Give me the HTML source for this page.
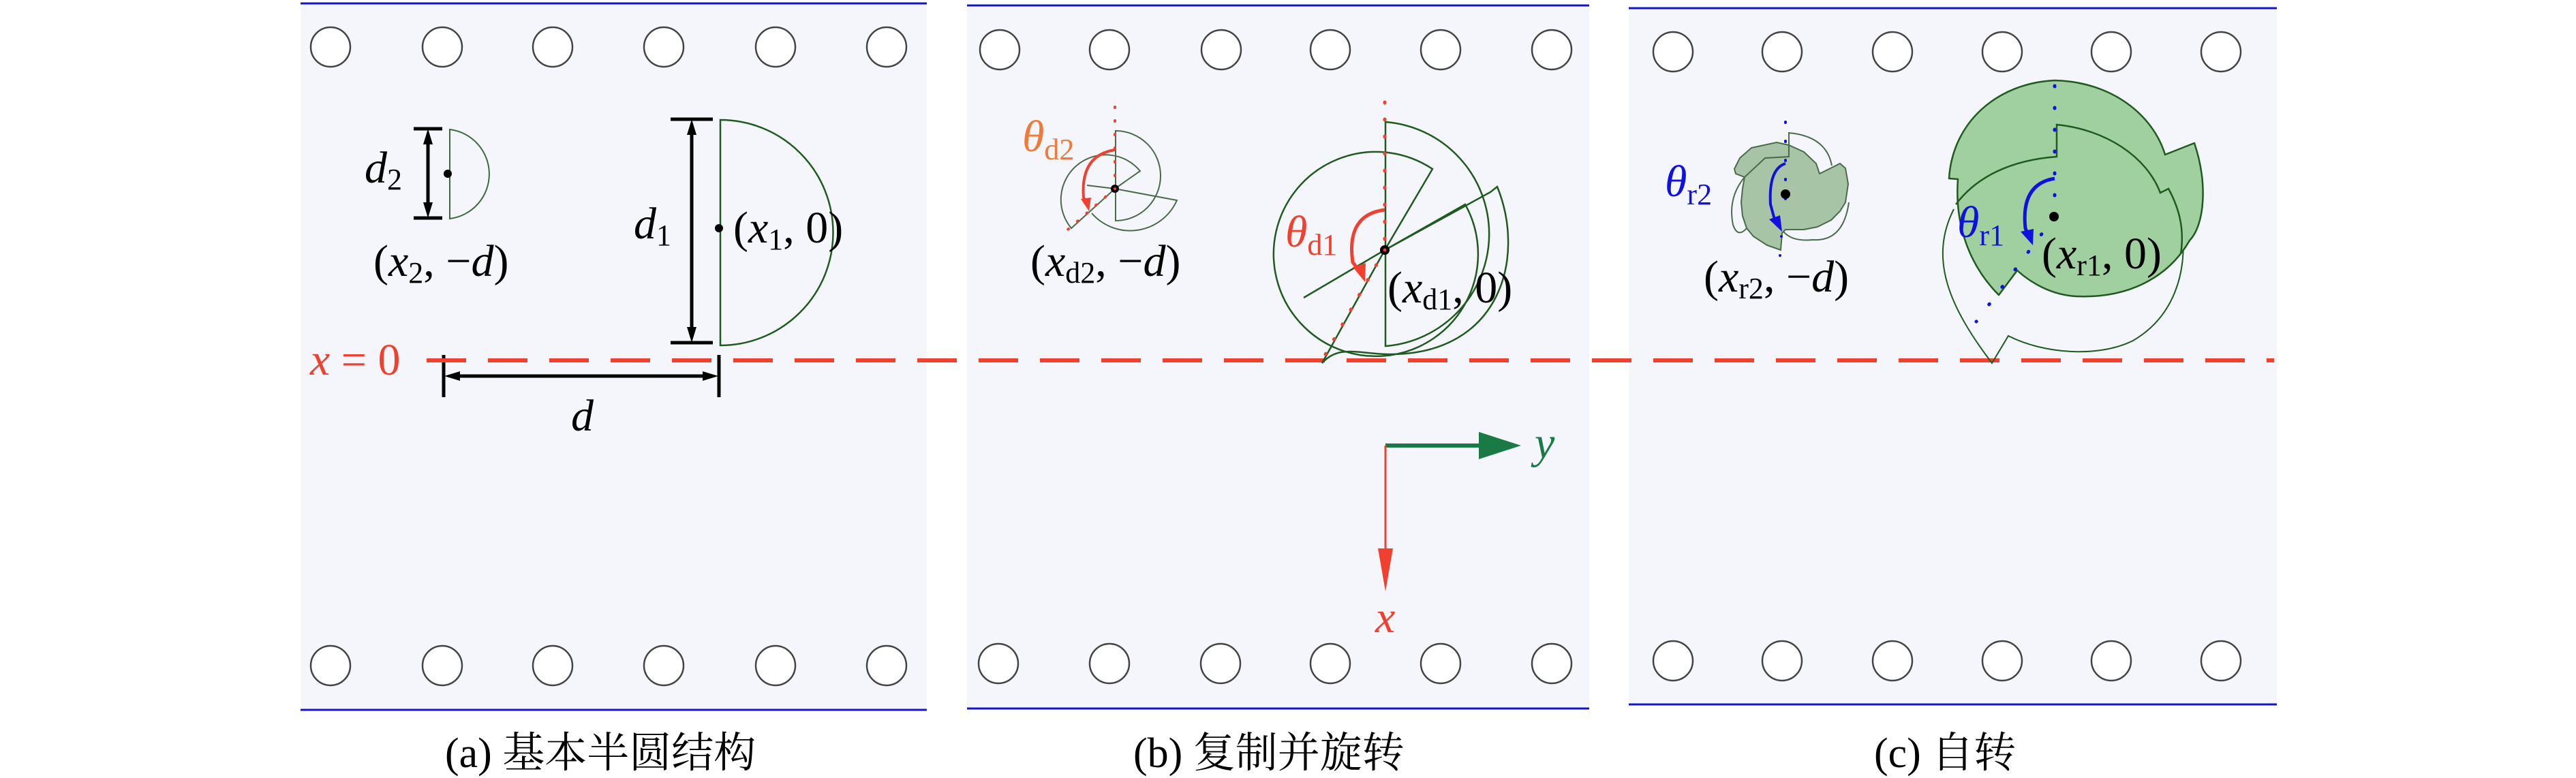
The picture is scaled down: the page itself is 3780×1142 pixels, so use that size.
<!DOCTYPE html>
<html><head><meta charset="utf-8"><style>
html,body{margin:0;padding:0;background:#fff}
svg{display:block}
.m{font-family:"Liberation Serif",serif;font-size:66px}
.i{font-style:italic}
.cap{font-family:"Liberation Serif","Noto Serif CJK SC",serif;font-size:62px}
</style></head><body>
<svg width="3780" height="1142" viewBox="0 0 3780 1142" xmlns="http://www.w3.org/2000/svg">
<rect x="441" y="5" width="919" height="1037" fill="#f4f6fb"/>
<rect x="1419" y="8" width="913" height="1032" fill="#f4f6fb"/>
<rect x="2390" y="12" width="951" height="1022" fill="#f4f6fb"/>
<g stroke="#1414c8" stroke-width="3">
<line x1="441" y1="5" x2="1360" y2="5"/><line x1="441" y1="1042" x2="1360" y2="1042"/>
<line x1="1419" y1="8" x2="2332" y2="8"/><line x1="1419" y1="1040" x2="2332" y2="1040"/>
<line x1="2390" y1="12" x2="3341" y2="12"/><line x1="2390" y1="1034" x2="3341" y2="1034"/>
</g>
<g fill="#fff" stroke="#444" stroke-width="2.5">
<circle cx="485" cy="69" r="29"/><circle cx="649" cy="69" r="29"/><circle cx="811" cy="69" r="29"/><circle cx="974" cy="69" r="29"/><circle cx="1138" cy="69" r="29"/><circle cx="1301" cy="69" r="29"/>
<circle cx="485" cy="977" r="29"/><circle cx="649" cy="977" r="29"/><circle cx="811" cy="977" r="29"/><circle cx="974" cy="977" r="29"/><circle cx="1138" cy="977" r="29"/><circle cx="1301" cy="977" r="29"/>
<circle cx="1467" cy="73" r="29"/><circle cx="1628" cy="73" r="29"/><circle cx="1792" cy="73" r="29"/><circle cx="1952" cy="73" r="29"/><circle cx="2114" cy="73" r="29"/><circle cx="2277" cy="73" r="29"/>
<circle cx="1465" cy="974" r="29"/><circle cx="1628" cy="974" r="29"/><circle cx="1791" cy="974" r="29"/><circle cx="1952" cy="974" r="29"/><circle cx="2114" cy="974" r="29"/><circle cx="2277" cy="974" r="29"/>
<circle cx="2455" cy="76" r="29"/><circle cx="2615" cy="76" r="29"/><circle cx="2777" cy="76" r="29"/><circle cx="2938" cy="76" r="29"/><circle cx="3098" cy="76" r="29"/><circle cx="3259" cy="76" r="29"/>
<circle cx="2455" cy="970" r="29"/><circle cx="2615" cy="970" r="29"/><circle cx="2777" cy="970" r="29"/><circle cx="2938" cy="970" r="29"/><circle cx="3098" cy="970" r="29"/><circle cx="3259" cy="970" r="29"/>
</g>

<!-- Panel a -->
<path d="M660,190 A66 66 0 0 1 660,321 Z" fill="none" stroke="#3d6b3d" stroke-width="2"/>
<path d="M1057,176 A165 165 0 0 1 1057,507 Z" fill="none" stroke="#1f5a1f" stroke-width="2.5"/>
<g stroke="#000" stroke-width="5">
<line x1="607" y1="189" x2="649" y2="189"/><line x1="607" y1="320" x2="649" y2="320"/>
<line x1="628" y1="200" x2="628" y2="310"/>
<line x1="984" y1="175" x2="1046" y2="175"/><line x1="984" y1="503" x2="1046" y2="503"/>
<line x1="1015" y1="190" x2="1015" y2="490"/>
<line x1="651" y1="521" x2="651" y2="583"/><line x1="1055" y1="521" x2="1055" y2="583"/>
<line x1="665" y1="552" x2="1042" y2="552"/>
</g>
<g fill="#000">
<polygon points="628,189 621,212 635,212"/><polygon points="628,320 621,297 635,297"/>
<polygon points="1015,175 1008,198 1022,198"/><polygon points="1015,503 1008,480 1022,480"/>
<polygon points="652,552 675,545 675,559"/><polygon points="1054,552 1031,545 1031,559"/>
<circle cx="657" cy="255" r="6"/><circle cx="1055" cy="335" r="6"/>
</g>
<text class="m" x="535" y="268"><tspan class="i">d</tspan><tspan font-size="44" dy="10">2</tspan></text>
<text class="m" x="930" y="350"><tspan class="i">d</tspan><tspan font-size="44" dy="10">1</tspan></text>
<text class="m" x="548" y="405">(<tspan class="i">x</tspan><tspan font-size="44" dy="10">2</tspan><tspan dy="-10">, −</tspan><tspan class="i">d</tspan>)</text>
<text class="m" x="1076" y="356">(<tspan class="i">x</tspan><tspan font-size="44" dy="10">1</tspan><tspan dy="-10">, 0)</tspan></text>
<text class="m i" x="838" y="632">d</text>
<text class="m" x="455" y="550" fill="#f04030"><tspan class="i">x</tspan> = 0</text>

<line x1="626" y1="529" x2="3337" y2="529" stroke="#f04030" stroke-width="6" stroke-dasharray="58 32"/>

<!-- Panel b big -->
<g fill="none" stroke="#1f5a1f" stroke-width="2.5">
<path d="M2033,179 A165 165 0 0 1 2033,508 Z"/>
<path d="M2032,367 L2102,248 A150 150 0 1 0 2150,300 Z"/>
<path d="M2032,367 L1913,437"/>
<path d="M2032,367 L2187,282 L2197,274 C2240,380 2200,520 2040,520 C1995,520 1965,505 1940,533 Z"/>
</g>
<line x1="2032" y1="150" x2="2032" y2="367" stroke="#f04030" stroke-width="5" stroke-dasharray="1 24" stroke-linecap="round"/>
<line x1="2032" y1="367" x2="1945" y2="520" stroke="#f04030" stroke-width="5" stroke-dasharray="1 24" stroke-linecap="round"/>
<path d="M2032,308 Q1975,315 1985,385 L1995,398" fill="none" stroke="#f04030" stroke-width="5"/>
<polygon points="2003,414 1985,392 2004,386" fill="#f04030"/>
<circle cx="2032" cy="367" r="7" fill="#000"/><circle cx="2032" cy="367" r="2.5" fill="#f04030"/>
<text class="m" x="1886" y="362" fill="#f04030"><tspan class="i">θ</tspan><tspan font-size="44" dy="12">d1</tspan></text>
<text class="m" x="2036" y="444">(<tspan class="i">x</tspan><tspan font-size="44" dy="10">d1</tspan><tspan dy="-10">, 0)</tspan></text>

<!-- Panel b small -->
<g fill="none" stroke="#4a6a4a" stroke-width="2">
<path d="M1637,192 A66 66 0 0 1 1637,324 Z"/>
<path d="M1636,277 L1673,251 A60 60 0 1 0 1572,335 Z"/>
<path d="M1595,272 L1636,277 L1727,294 A75 75 0 0 1 1602,313"/>
</g>
<line x1="1636" y1="157" x2="1636" y2="277" stroke="#f04030" stroke-width="4" stroke-dasharray="1 19" stroke-linecap="round"/>
<line x1="1636" y1="277" x2="1560" y2="343" stroke="#f04030" stroke-width="4" stroke-dasharray="1 17" stroke-linecap="round"/>
<path d="M1636,220 Q1585,228 1590,290 L1594,296" fill="none" stroke="#f04030" stroke-width="4"/>
<polygon points="1598,310 1586,292 1601,290" fill="#f04030"/>
<circle cx="1636" cy="277" r="6" fill="#000"/><circle cx="1636" cy="277" r="2" fill="#f04030"/>
<text class="m" x="1500" y="222" fill="#f07a3a"><tspan class="i">θ</tspan><tspan font-size="44" dy="12">d2</tspan></text>
<text class="m" x="1512" y="405">(<tspan class="i">x</tspan><tspan font-size="44" dy="10">d2</tspan><tspan dy="-10">, −</tspan><tspan class="i">d</tspan>)</text>

<!-- axes -->
<line x1="2033" y1="654" x2="2175" y2="654" stroke="#1a7a45" stroke-width="6"/>
<polygon points="2170,634 2232,654 2170,674" fill="#1a7a45"/>
<line x1="2033" y1="654" x2="2033" y2="810" stroke="#f04030" stroke-width="3"/>
<polygon points="2022,805 2044,805 2033,868" fill="#f04030"/>
<text class="m i" x="2252" y="672" fill="#1a7a45">y</text>
<text class="m i" x="2018" y="928" fill="#f04030">x</text>

<!-- Panel c big -->
<path d="M2867,307 C2830,380 2860,450 2923,533 L2947,493 C3000,520 3080,525 3130,500 C3190,465 3210,400 3202,333" fill="none" stroke="#1f5a1f" stroke-width="2"/>
<path d="M3015,118 C3100,120 3160,170 3177,227 L3220,210 C3240,270 3235,330 3213,353 C3180,410 3120,438 3047,435 C3010,433 2980,415 2960,397 L2933,433 C2890,390 2868,330 2873,263 L2860,262 C2865,180 2930,122 3015,118 Z" fill="#a0cfa0" stroke="#1f5a1f" stroke-width="2.5" stroke-linejoin="round"/>
<path d="M2870,300 C2900,260 2950,235 3018,230 L3018,183 C3090,190 3150,230 3170,283 L3182,277 C3200,310 3205,340 3200,373" fill="none" stroke="#1f5a1f" stroke-width="2.5"/>
<line x1="3015" y1="126" x2="3015" y2="318" stroke="#1010e0" stroke-width="5" stroke-dasharray="1 31" stroke-linecap="round"/>
<line x1="3015" y1="318" x2="2900" y2="472" stroke="#1010e0" stroke-width="5" stroke-dasharray="1 31" stroke-linecap="round"/>
<path d="M3015,262 Q2965,270 2972,335 L2976,345" fill="none" stroke="#1010e0" stroke-width="5"/>
<polygon points="2983,360 2965,340 2984,336" fill="#1010e0"/>
<circle cx="3014" cy="318" r="7" fill="#000"/>
<text class="m" x="2872" y="348" fill="#1010e0"><tspan class="i">θ</tspan><tspan font-size="44" dy="12">r1</tspan></text>
<text class="m" x="2996" y="394">(<tspan class="i">x</tspan><tspan font-size="44" dy="10">r1</tspan><tspan dy="-10">, 0)</tspan></text>

<!-- Panel c small -->
<g fill="none" stroke="#4a6a4a" stroke-width="2">
<path d="M2625,213 L2625,195 Q2680,200 2688,243"/>
<path d="M2713,297 Q2705,355 2660,352 Q2630,355 2617,340"/>
<path d="M2560,260 Q2535,290 2543,330 Q2550,350 2563,335"/>
</g>
<polygon points="2570,217 2607,209 2625,213 2647,223 2665,240 2670,255 2690,245 2700,240 2708,247 2712,270 2708,297 2700,310 2687,323 2667,333 2647,337 2620,337 2615,342 2613,367 2593,360 2573,347 2563,335 2557,317 2555,297 2557,277 2560,260 2547,255 2545,248 2553,232" fill="#a8c4a6" stroke="#4a6a4a" stroke-width="2"/>
<path d="M2560,260 L2590,232 L2625,230 L2625,213" fill="none" stroke="#4a6a4a" stroke-width="2"/>
<line x1="2620" y1="179" x2="2620" y2="319" stroke="#1010e0" stroke-width="4" stroke-dasharray="1 27" stroke-linecap="round"/>
<circle cx="2614" cy="347" r="2" fill="#1010e0"/><circle cx="2612" cy="375" r="2" fill="#1010e0"/>
<path d="M2620,240 Q2595,248 2598,300 L2604,322" fill="none" stroke="#1010e0" stroke-width="4"/>
<polygon points="2615,340 2596,322 2612,316" fill="#1010e0"/>
<circle cx="2620" cy="285" r="7" fill="#000"/>
<text class="m" x="2443" y="288" fill="#1010e0"><tspan class="i">θ</tspan><tspan font-size="44" dy="12">r2</tspan></text>
<text class="m" x="2500" y="428">(<tspan class="i">x</tspan><tspan font-size="44" dy="10">r2</tspan><tspan dy="-10">, −</tspan><tspan class="i">d</tspan>)</text>

<text class="cap" x="653" y="1126">(a) 基本半圆结构</text>
<text class="cap" x="1663" y="1126">(b) 复制并旋转</text>
<text class="cap" x="2750" y="1126">(c) 自转</text>
</svg>
</body></html>
